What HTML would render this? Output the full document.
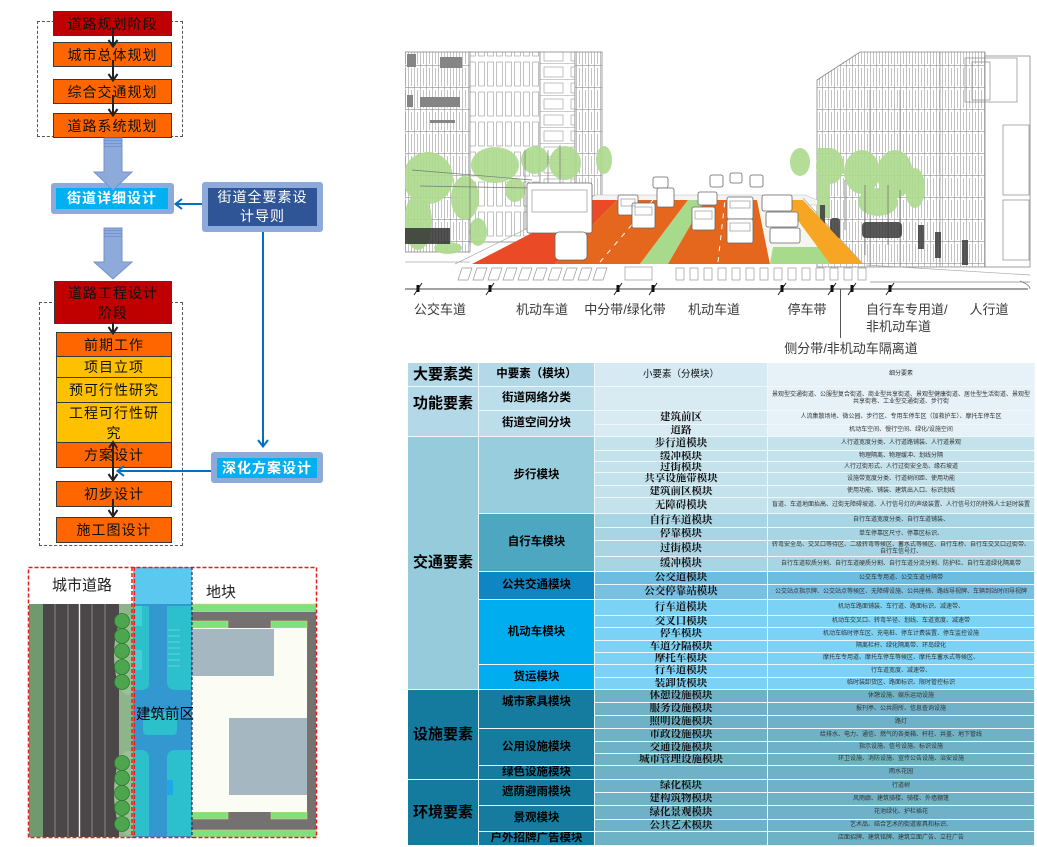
<!DOCTYPE html>
<html><head><meta charset="utf-8">
<style>
*{margin:0;padding:0;box-sizing:border-box}
html,body{width:1037px;height:847px;overflow:hidden;background:#fff}
body{position:relative;font-family:"Liberation Sans","Noto Sans CJK SC",sans-serif;color:#000}
.a{position:absolute}
.bx{position:absolute;display:flex;align-items:center;justify-content:center;text-align:center;font-size:14px;line-height:18px;letter-spacing:1px;border:1px solid #3a3a3a;color:#111}
.red{background:#c00000}
.org{background:#ff6600}
.yel{background:#ffc000}
.dash{position:absolute;border:1px dashed #555}
.ob{position:absolute;background:#8eaadb;border-radius:3px}
.ib{position:absolute;display:flex;align-items:center;justify-content:center;text-align:center;color:#fff;font-weight:bold;font-size:14px;letter-spacing:1px;line-height:19px}
.c{position:absolute;display:flex;align-items:center;justify-content:center;text-align:center;border-right:1px solid #eef7fb;border-bottom:1px solid #eef7fb;overflow:hidden;line-height:1.05}
.k1{left:408px;width:71px;font-size:15px;font-weight:bold}
.k2{left:479px;width:116px;font-size:11.5px;font-weight:bold}
.k3{left:595px;width:173px;font-size:10.5px;font-family:"Liberation Serif","Noto Serif CJK SC",serif;font-weight:bold;color:#111}
.k4{left:768px;width:267px;font-size:6px;line-height:7px;color:#333;padding:0 2px}
.f{background:#bcdeeb}
.f3{background:#d8ebf3}
.f4{background:#e6f2f8}
.p{background:#c4e2ec}
.b{background:#a8d5e3}
.t{background:#78bfe1}
.m{background:#7bd2f5}
.s{background:#6fb2c8}
</style></head><body>

<!-- ===== Flowchart ===== -->
<div class="dash" style="left:37px;top:21px;width:146px;height:116px"></div>
<div class="bx red" style="left:53px;top:11px;width:119px;height:25px">道路规划阶段</div>
<div class="bx org" style="left:53px;top:42px;width:119px;height:25px">城市总体规划</div>
<div class="bx org" style="left:53px;top:79px;width:119px;height:25px">综合交通规划</div>
<div class="bx org" style="left:53px;top:113px;width:119px;height:25px">道路系统规划</div>

<div class="ob" style="left:51px;top:183px;width:123px;height:31px"></div>
<div class="ib" style="left:56px;top:188px;width:112px;height:21px;background:#00b0f0">街道详细设计</div>

<div class="ob" style="left:202px;top:182px;width:121px;height:50px"></div>
<div class="ib" style="left:208px;top:188px;width:109px;height:38px;background:#2f5597;font-weight:normal">街道全要素设<br>计导则</div>

<div class="dash" style="left:39px;top:302px;width:144px;height:244px"></div>
<div class="bx red" style="left:54px;top:281px;width:118px;height:43px;line-height:20px">道路工程设计<br>阶段</div>
<div class="bx org" style="left:56px;top:332px;width:116px;height:25px">前期工作</div>
<div class="bx yel" style="left:56px;top:356px;width:116px;height:22px">项目立项</div>
<div class="bx yel" style="left:56px;top:377px;width:116px;height:26px">预可行性研究</div>
<div class="bx yel" style="left:56px;top:402px;width:116px;height:41px;line-height:20px">工程可行性研<br>究</div>
<div class="bx org" style="left:56px;top:442px;width:116px;height:26px">方案设计</div>
<div class="bx org" style="left:56px;top:481px;width:116px;height:26px">初步设计</div>
<div class="bx org" style="left:56px;top:517px;width:116px;height:26px">施工图设计</div>

<div class="ob" style="left:211px;top:452px;width:112px;height:31px"></div>
<div class="ib" style="left:217px;top:458px;width:100px;height:20px;background:#00b0f0">深化方案设计</div>

<svg class="a" style="left:0;top:0" width="340" height="560" viewBox="0 0 340 560">
  <g stroke="#222" stroke-width="2" fill="none">
    <path d="M113 27V46M108.5 40L113 46.5L117.5 40"/>
    <path d="M113 60V80M108.5 74L113 80.5L117.5 74"/>
    <path d="M113 95V115M108.5 109L113 115.5L117.5 109"/>
    <path d="M113 322V333M108.5 327L113 333.5L117.5 327"/>
    <path d="M109 448L113 442L117 448"/>
    <path d="M113 444V480M108.5 474L113 480.5L117.5 474"/>
    <path d="M113 499V516M108.5 510L113 516.5L117.5 510"/>
  </g>
  <path d="M104 138H122V172H132L113 190L94 172H104Z" fill="#8eaadb" stroke="#7393cf"/>
  <path d="M104 140.5H122M104 143.5H122M104 146.5H122" stroke="#6f8fcc" stroke-width="0.8"/>
  <path d="M104 228H122V262H132L113 279L94 262H104Z" fill="#8eaadb" stroke="#7393cf"/>
  <path d="M104 230.5H122M104 233.5H122M104 236.5H122" stroke="#6f8fcc" stroke-width="0.8"/>
  <g stroke="#0070c0" stroke-width="2" fill="none">
    <path d="M202 204H176M182 199L175.5 204L182 209"/>
    <path d="M263 232V446M258 440L263 446.5L268 440"/>
    <path d="M211 471H118M124 466L117.5 471L124 476"/>
  </g>
</svg>

<!-- ===== Bottom-left map ===== -->
<svg class="a" style="left:20px;top:560px" width="310" height="287" viewBox="20 560 310 287">
  <rect x="20" y="560" width="310" height="287" fill="#fff"/>
  <!-- road -->
  <rect x="29" y="604" width="14" height="233" fill="#6f9a6f"/>
  <rect x="43" y="604" width="77" height="233" fill="#4b4647"/>
  <g stroke="#8d8787" stroke-width="1"><path d="M55 604V837M68 604V837M92 604V837M105 604V837"/></g>
  <path d="M79.5 604V837" stroke="#f0f0f0" stroke-width="1.4"/>
  <rect x="119" y="604" width="14" height="233" fill="#8fb38b"/>
  <ellipse cx="128" cy="655" rx="14" ry="40" fill="#9dbf97"/>
  <ellipse cx="128" cy="793" rx="14" ry="42" fill="#9dbf97"/>
  <g fill="#4da64d" stroke="#2f7a2f" stroke-width="0.8">
    <circle cx="122" cy="621" r="7.5"/><circle cx="122" cy="636" r="7.5"/><circle cx="122" cy="651" r="7.5"/><circle cx="122" cy="667" r="7.5"/><circle cx="122" cy="682" r="7.5"/>
    <circle cx="122" cy="763" r="7.5"/><circle cx="122" cy="778" r="7.5"/><circle cx="122" cy="793" r="7.5"/><circle cx="122" cy="808" r="7.5"/><circle cx="122" cy="824" r="7.5"/>
  </g>
  <!-- middle 建筑前区 -->
  <rect x="133" y="567" width="59" height="37" fill="#5bc8f0"/>
  <rect x="133" y="604" width="59" height="233" fill="#3298cf"/>
  <g fill="#2cc0cc">
    <path d="M134 606H149V684Q149 690 140 690H134Z"/>
    <path d="M167 606H191V690H176Q167 690 167 682Z"/>
    <path d="M134 750H140Q149 750 149 758V836H134Z"/>
    <path d="M167 758Q167 750 176 750H191V836H167Z"/>
    <rect x="143" y="712" width="34" height="23" rx="4"/>
  </g>
  <rect x="134" y="606" width="8" height="20" fill="#40d0d8"/>
  <rect x="134" y="650" width="8" height="20" fill="#40d0d8"/>
  <rect x="167" y="780" width="6" height="15" fill="#1ea8e8"/>
  <g stroke="#74d8ec" stroke-width="0.8"><path d="M168 630H180M168 636H180M168 642H180M168 648H180M168 654H180M168 660H180M168 666H180"/></g>
  <!-- right plot -->
  <rect x="192" y="604" width="124" height="8" fill="#7ee07e" stroke="#e8cc70" stroke-width="0.6"/>
  <rect x="192" y="612" width="124" height="219" fill="#767171"/>
  <rect x="192" y="830" width="124" height="7" fill="#7ee07e" stroke="#e8cc70" stroke-width="0.6"/>
  <rect x="192" y="621" width="36" height="7" fill="#7ee07e" stroke="#e8cc70" stroke-width="0.6"/>
  <rect x="271" y="621" width="36" height="7" fill="#7ee07e" stroke="#e8cc70" stroke-width="0.6"/>
  <rect x="192" y="812" width="36" height="7" fill="#7ee07e" stroke="#e8cc70" stroke-width="0.6"/>
  <rect x="271" y="812" width="36" height="7" fill="#7ee07e" stroke="#e8cc70" stroke-width="0.6"/>
  <rect x="192" y="628" width="115" height="184" fill="#fbfcf4"/>
  <rect x="192" y="629" width="82" height="47" fill="#a5b8c2"/>
  <rect x="229" y="718" width="78" height="77" fill="#a5b8c2"/>
  <!-- dashed frames -->
  <rect x="28.5" y="567.5" width="288" height="270" fill="none" stroke="#e02020" stroke-width="1.5" stroke-dasharray="4 2"/>
  <path d="M132 567V838" stroke="#e02020" stroke-width="1.5" stroke-dasharray="4 2"/>
  <path d="M134.5 567V838" stroke="#e02020" stroke-width="1.2" stroke-dasharray="4 2"/>
  <path d="M192 567V838" stroke="#1a2f6e" stroke-width="1.2" stroke-dasharray="3 2"/>
  <g font-family="Liberation Sans, Noto Sans CJK SC, sans-serif" text-anchor="middle" fill="#222">
    <text x="82" y="590" font-size="15">城市道路</text>
    <text x="221" y="597" font-size="15">地块</text>
    <text x="165" y="719" font-size="14.5" fill="#000">建筑前区</text>
  </g>
</svg>

<!-- ===== Street illustration ===== -->
<svg class="a" style="left:405px;top:40px" width="630" height="320" viewBox="405 40 630 320">
  <defs>
    <pattern id="w1" width="6" height="22" patternUnits="userSpaceOnUse"><rect width="6" height="22" fill="#fff"/><path d="M0.5 0V22M3.5 2V20" stroke="#9c9c9c" stroke-width="0.6"/><path d="M0 21.5H6" stroke="#999" stroke-width="0.7"/></pattern>
    <pattern id="w2" width="27" height="16" patternUnits="userSpaceOnUse"><rect width="27" height="16" fill="#fff"/><rect x="4" y="3" width="19" height="10" fill="none" stroke="#999" stroke-width="0.6"/><path d="M0 15.5H27" stroke="#999" stroke-width="0.6"/></pattern>
    <pattern id="w3" width="9" height="30" patternUnits="userSpaceOnUse"><rect width="9" height="30" fill="#fff"/><rect x="1.5" y="2" width="6" height="24" fill="none" stroke="#9a9a9a" stroke-width="0.6"/></pattern>
  </defs>
  <!-- left buildings -->
  <rect x="405" y="52" width="65" height="200" fill="url(#w1)" stroke="#888" stroke-width="0.8"/>
  <rect x="470" y="52" width="70" height="190" fill="url(#w3)" stroke="#888" stroke-width="0.8"/>
  <rect x="540" y="52" width="35" height="150" fill="url(#w2)" stroke="#888" stroke-width="0.8"/>
  <rect x="575" y="52" width="27" height="160" fill="url(#w1)" stroke="#888" stroke-width="0.8"/>
  <g fill="#858585">
    <rect x="407" y="54" width="9" height="13"/><rect x="440" y="57" width="22" height="11"/>
    <rect x="407" y="95" width="6" height="12"/><rect x="420" y="97" width="40" height="10"/>
    <rect x="430" y="120" width="25" height="3"/>
  </g>
  <!-- right buildings -->
  <polygon points="817,80 860,52 985,52 985,267 817,267" fill="url(#w1)" stroke="#888" stroke-width="0.8"/>
  <rect x="985" y="56" width="45" height="211" fill="#fff" stroke="#888" stroke-width="0.8"/>
  <g fill="none" stroke="#8a8a8a" stroke-width="0.7">
    <rect x="965" y="58" width="52" height="44"/><rect x="972" y="62" width="18" height="38"/>
    <rect x="1003" y="125" width="26" height="70"/><rect x="1003" y="200" width="26" height="60"/>
    <path d="M940 52V267M900 90V267M870 90V267"/>
  </g>
  <!-- far road / sidewalks -->
  <polygon points="595,195 805,195 830,205 580,205" fill="#f4f4f4" stroke="#bbb" stroke-width="0.6"/>
  <path d="M455 264L595 195M863 264L803 198M866 265L1030 275M405 262L470 262" stroke="#aaa" stroke-width="0.7" fill="none"/>
  <path d="M870 282L1030 282" stroke="#888" stroke-width="0.8"/>
  <!-- trees left -->
  <g fill="#aedb8f" opacity="0.92">
    <ellipse cx="428" cy="178" rx="25" ry="26"/><ellipse cx="418" cy="222" rx="14" ry="28"/>
    <ellipse cx="495" cy="165" rx="24" ry="18"/><ellipse cx="535" cy="160" rx="14" ry="14"/>
    <ellipse cx="565" cy="163" rx="16" ry="17"/><ellipse cx="604" cy="160" rx="8" ry="14"/>
    <ellipse cx="465" cy="198" rx="14" ry="22"/><ellipse cx="478" cy="232" rx="9" ry="14"/>
    <ellipse cx="448" cy="248" rx="14" ry="6"/><ellipse cx="515" cy="190" rx="10" ry="12"/>
  </g>
  <g stroke="#777" stroke-width="0.7" fill="none">
    <path d="M412 170L532 180M420 186L530 188M470 170L470 245M525 150V230M548 150V240M560 145V210"/>
  </g>
  <rect x="405" y="228" width="45" height="16" fill="#333" opacity="0.85"/>
  <!-- trees right -->
  <g fill="#aedb8f" opacity="0.92">
    <ellipse cx="800" cy="162" rx="10" ry="14"/><ellipse cx="830" cy="166" rx="14" ry="18"/>
    <ellipse cx="862" cy="172" rx="18" ry="22"/><ellipse cx="895" cy="174" rx="18" ry="24"/>
    <ellipse cx="915" cy="188" rx="10" ry="20"/><ellipse cx="878" cy="202" rx="20" ry="14"/>
    <rect x="817" y="148" width="13" height="70"/>
  </g>
  <g stroke="#777" stroke-width="0.8"><path d="M865 185V255M888 185V245M900 190V235M845 180V230"/></g>
  <g fill="#3c3c3c" opacity="0.85">
    <rect x="862" y="222" width="40" height="16" rx="4"/><rect x="820" y="205" width="5" height="20"/><rect x="830" y="218" width="10" height="22" rx="3"/>
    <rect x="918" y="225" width="6" height="24"/><rect x="935" y="232" width="6" height="26"/><rect x="962" y="240" width="6" height="25"/>
  </g>
  <!-- road surfaces -->
  <polygon points="472,264 555,264 617,200 592,200 530,234" fill="#ea4b26"/>
  <polygon points="555,264 640,264 688,200 617,200" fill="#e5661d"/>
  <polygon points="640,264 668,264 705,200 688,200" fill="#a8da8b"/>
  <polygon points="668,264 770,264 757,200 705,200" fill="#e5661d"/>
  <polygon points="770,264 830,264 783,200 757,200" fill="#f5f5f0"/>
  <polygon points="773,247 820,247 830,264 770,264" fill="#a8da8b"/>
  <polygon points="830,264 863,264 803,200 783,200" fill="#f6a623"/>
  <g stroke="#fff" stroke-width="1" stroke-dasharray="5 6"><path d="M600 262L653 200M718 262L725 200"/></g>
  <!-- cars -->
  <g fill="#fff" stroke="#666" stroke-width="0.8">
    <rect x="527" y="183" width="65" height="50" rx="2"/>
    <rect x="555" y="232" width="32" height="28" rx="4"/>
    <rect x="618" y="195" width="20" height="20" rx="2"/>
    <rect x="632" y="203" width="23" height="25" rx="2"/>
    <rect x="653" y="177" width="15" height="11" rx="2"/>
    <rect x="657" y="188" width="17" height="19" rx="2"/>
    <rect x="692" y="207" width="23" height="23" rx="2"/>
    <rect x="698" y="192" width="19" height="13" rx="2"/>
    <rect x="710" y="175" width="13" height="12" rx="2"/>
    <rect x="727" y="197" width="26" height="22" rx="2"/>
    <rect x="727" y="219" width="26" height="24" rx="2"/>
    <rect x="730" y="173" width="12" height="10" rx="2"/>
    <rect x="750" y="175" width="13" height="12" rx="2"/>
    <rect x="762" y="195" width="30" height="16" rx="2"/>
    <rect x="766" y="212" width="32" height="15" rx="2"/>
    <rect x="770" y="228" width="30" height="15" rx="2"/>
  </g>
  <g fill="none" stroke="#888" stroke-width="0.6">
    <rect x="532" y="190" width="55" height="22"/><rect x="621" y="199" width="14" height="7"/><rect x="635" y="207" width="17" height="8"/>
    <rect x="695" y="211" width="17" height="8"/><rect x="730" y="201" width="20" height="7"/><rect x="730" y="223" width="20" height="8"/>
  </g>
  <!-- crosswalks -->
  <g fill="#fff" stroke="#999" stroke-width="0.7">
    <polygon points="458,280 468,280 472,268 462,268"/><polygon points="473,280 483,280 487,268 477,268"/>
    <polygon points="488,280 498,280 502,268 492,268"/><polygon points="503,280 513,280 517,268 507,268"/>
    <polygon points="518,280 528,280 532,268 522,268"/><polygon points="533,280 543,280 547,268 537,268"/>
    <polygon points="548,280 558,280 562,268 552,268"/><polygon points="563,280 573,280 577,268 567,268"/>
    <polygon points="578,280 588,280 592,268 582,268"/><polygon points="593,280 603,280 607,268 597,268"/>
    <rect x="625" y="267" width="27" height="13"/>
    <rect x="676" y="268" width="8" height="12"/><rect x="690" y="268" width="8" height="12"/><rect x="704" y="268" width="8" height="12"/>
    <rect x="718" y="268" width="8" height="12"/><rect x="732" y="268" width="8" height="12"/><rect x="746" y="268" width="8" height="12"/>
    <rect x="760" y="268" width="8" height="12"/><rect x="774" y="268" width="8" height="12"/><rect x="788" y="268" width="8" height="12"/>
    <rect x="802" y="268" width="8" height="12"/><rect x="816" y="268" width="8" height="12"/><rect x="830" y="268" width="8" height="12"/>
    <rect x="844" y="268" width="8" height="12"/><rect x="858" y="268" width="8" height="12"/>
  </g>
  <!-- baseline and ticks -->
  <path d="M405 289H1028" stroke="#444" stroke-width="1"/>
  <path d="M1020 281Q1030 285 1030 289" stroke="#777" fill="none" stroke-width="0.8"/>
  <g stroke="#222" stroke-width="1">
    <path d="M414 295L422 283M486 295L494 283M614 295L622 283M649 295L657 283M778 295L786 283M828 295L836 283M848 295L856 283M886 295L894 283"/>
  </g>
  <g fill="#111">
    <rect x="416.5" y="285" width="3" height="7"/><rect x="488.5" y="285" width="3" height="7"/><rect x="616.5" y="285" width="3" height="7"/><rect x="651.5" y="285" width="3" height="7"/>
    <rect x="780.5" y="285" width="3" height="7"/><rect x="830.5" y="285" width="3" height="7"/><rect x="850.5" y="285" width="3" height="7"/><rect x="888.5" y="285" width="3" height="7"/>
  </g>
  <path d="M840.5 289V338" stroke="#555" stroke-width="1"/>
  <g font-family="Liberation Sans, Noto Sans CJK SC, sans-serif" font-size="13" fill="#3a3a3a">
    <text x="440" y="314" text-anchor="middle">公交车道</text>
    <text x="542" y="314" text-anchor="middle">机动车道</text>
    <text x="625" y="314" text-anchor="middle">中分带/绿化带</text>
    <text x="714" y="314" text-anchor="middle">机动车道</text>
    <text x="807" y="314" text-anchor="middle">停车带</text>
    <text x="866" y="314">自行车专用道/</text>
    <text x="866" y="331">非机动车道</text>
    <text x="989" y="314" text-anchor="middle">人行道</text>
    <text x="851" y="353" text-anchor="middle">侧分带/非机动车隔离道</text>
  </g>
</svg>

<!-- ===== Table ===== -->
<!-- col1 -->
<div class="c k1" style="top:363px;height:24px;background:#b3d8e7">大要素类</div>
<div class="c k1" style="top:387px;height:50px;background:#b3d8e7;align-items:flex-start;padding-top:9px">功能要素</div>
<div class="c k1" style="top:437px;height:253px;background:#96cbdc">交通要素</div>
<div class="c k1" style="top:690px;height:90px;background:#147b9f">设施要素</div>
<div class="c k1" style="top:780px;height:66px;background:#147b9f">环境要素</div>
<!-- col2 -->
<div class="c k2" style="top:363px;height:24px;background:#b3d8e7">中要素（模块）</div>
<div class="c k2 f" style="top:387px;height:24px">街道网络分类</div>
<div class="c k2 f" style="top:411px;height:26px">街道空间分块</div>
<div class="c k2" style="top:437px;height:77px;background:#98cddd">步行模块</div>
<div class="c k2" style="top:514px;height:58px;background:#4da7c1">自行车模块</div>
<div class="c k2" style="top:572px;height:28px;background:#0d86c3">公共交通模块</div>
<div class="c k2" style="top:600px;height:65px;background:#00adef">机动车模块</div>
<div class="c k2" style="top:665px;height:25px;background:#00adef">货运模块</div>
<div class="c k2" style="top:690px;height:39px;background:#157c9f;align-items:flex-start;padding-top:6px">城市家具模块</div>
<div class="c k2" style="top:729px;height:37px;background:#157c9f">公用设施模块</div>
<div class="c k2" style="top:766px;height:14px;background:#157c9f">绿色设施模块</div>
<div class="c k2" style="top:780px;height:26px;background:#157c9f">遮荫避雨模块</div>
<div class="c k2" style="top:806px;height:26px;background:#157c9f">景观模块</div>
<div class="c k2" style="top:832px;height:14px;background:#157c9f">户外招牌广告模块</div>
<!-- col3 -->
<div class="c k3" style="top:363px;height:24px;background:#d6eaf3;font-family:'Liberation Sans','Noto Sans CJK SC',sans-serif;font-weight:normal;font-size:9.5px">小要素（分模块）</div>
<div class="c k3 f3" style="top:387px;height:24px"></div>
<div class="c k3 f3" style="top:411px;height:14px">建筑前区</div>
<div class="c k3 f3" style="top:425px;height:12px">道路</div>
<div class="c k3 p" style="top:437px;height:14px">步行道模块</div>
<div class="c k3 p" style="top:451px;height:11px">缓冲模块</div>
<div class="c k3 p" style="top:462px;height:11px">过街模块</div>
<div class="c k3 p" style="top:473px;height:13px">共享设施带模块</div>
<div class="c k3 p" style="top:486px;height:12px">建筑前区模块</div>
<div class="c k3 p" style="top:498px;height:16px">无障碍模块</div>
<div class="c k3 b" style="top:514px;height:14px">自行车道模块</div>
<div class="c k3 b" style="top:528px;height:13px">停靠模块</div>
<div class="c k3 b" style="top:541px;height:16px">过街模块</div>
<div class="c k3 b" style="top:557px;height:15px">缓冲模块</div>
<div class="c k3 t" style="top:572px;height:13px;background:#6dbde0">公交道模块</div>
<div class="c k3 t" style="top:585px;height:15px">公交停靠站模块</div>
<div class="c k3 m" style="top:600px;height:16px">行车道模块</div>
<div class="c k3 m" style="top:616px;height:12px">交叉口模块</div>
<div class="c k3 m" style="top:628px;height:13px">停车模块</div>
<div class="c k3 m" style="top:641px;height:12px">车道分隔模块</div>
<div class="c k3 m" style="top:653px;height:12px">摩托车模块</div>
<div class="c k3 m" style="top:665px;height:13px">行车道模块</div>
<div class="c k3 m" style="top:678px;height:12px">装卸货模块</div>
<div class="c k3 s" style="top:690px;height:13px">休憩设施模块</div>
<div class="c k3 s" style="top:703px;height:13px">服务设施模块</div>
<div class="c k3 s" style="top:716px;height:13px">照明设施模块</div>
<div class="c k3 s" style="top:729px;height:13px">市政设施模块</div>
<div class="c k3 s" style="top:742px;height:12px">交通设施模块</div>
<div class="c k3 s" style="top:754px;height:12px">城市管理设施模块</div>
<div class="c k3 s" style="top:766px;height:14px"></div>
<div class="c k3 s" style="top:780px;height:13px">绿化模块</div>
<div class="c k3 s" style="top:793px;height:13px">建构筑物模块</div>
<div class="c k3 s" style="top:806px;height:14px">绿化景观模块</div>
<div class="c k3 s" style="top:820px;height:12px">公共艺术模块</div>
<div class="c k3 s" style="top:832px;height:14px"></div>
<!-- col4 -->
<div class="c k4 f4" style="top:363px;height:24px">细分要素</div>
<div class="c k4 f4" style="top:387px;height:24px">景观型交通街道、公服型复合街道、商业型共享街道、景观型健康街道、居住型生活街道、景观型共享街巷、工业型交通街道、步行街</div>
<div class="c k4 f4" style="top:411px;height:14px">人流集散场地、微公园、步行区、专用车停车区（加救护车）、摩托车停车区</div>
<div class="c k4 f4" style="top:425px;height:12px">机动车空间、慢行空间、绿化/设施空间</div>
<div class="c k4 p" style="top:437px;height:14px">人行道宽度分类、人行道路铺装、人行道景观</div>
<div class="c k4 p" style="top:451px;height:11px">物理隔离、物理缓冲、划线分隔</div>
<div class="c k4 p" style="top:462px;height:11px">人行过街形式、人行过街安全岛、缘石坡道</div>
<div class="c k4 p" style="top:473px;height:13px">设施带宽度分类、行道树间距、使用功能</div>
<div class="c k4 p" style="top:486px;height:12px">使用功能、铺装、建筑出入口、标识划线</div>
<div class="c k4 p" style="top:498px;height:16px">盲道、车道地面抬高、过街无障碍坡道、人行信号灯的声级装置、人行信号灯的特殊人士延时装置</div>
<div class="c k4 b" style="top:514px;height:14px">自行车道宽度分类、自行车道铺装、</div>
<div class="c k4 b" style="top:528px;height:13px">单车停靠区尺寸、停靠区标识、</div>
<div class="c k4 b" style="top:541px;height:16px">转弯安全岛、交叉口等待区、二级转弯等候区、蓄水式等候区、自行车桥、自行车交叉口过街带、自行车信号灯、</div>
<div class="c k4 b" style="top:557px;height:15px">自行车道软质分割、自行车道硬质分割、自行车道分流分割、防护栏、自行车道绿化隔离带</div>
<div class="c k4 t" style="top:572px;height:13px;background:#6dbde0">公交车专用道、公交车道分隔带</div>
<div class="c k4 t" style="top:585px;height:15px">公交站点指示牌、公交站点等候区、无障碍设施、公共座椅、路线导视牌、车辆到站时间导视牌</div>
<div class="c k4 m" style="top:600px;height:16px">机动车路面铺装、车行道、路面标识、减速带、</div>
<div class="c k4 m" style="top:616px;height:12px">机动车交叉口、转弯半径、划线、车道宽度、减速带</div>
<div class="c k4 m" style="top:628px;height:13px">机动车临时停车区、充电桩、停车计费装置、停车监控设施</div>
<div class="c k4 m" style="top:641px;height:12px">隔离栏杆、绿化隔离带、环岛绿化</div>
<div class="c k4 m" style="top:653px;height:12px">摩托车专用道、摩托车停车等候区、摩托车蓄水式等候区、</div>
<div class="c k4 m" style="top:665px;height:13px">行车道宽度、减速带、</div>
<div class="c k4 m" style="top:678px;height:12px">临时装卸货区、路面标识、限时管控标识</div>
<div class="c k4 s" style="top:690px;height:13px">休憩设施、娱乐运动设施</div>
<div class="c k4 s" style="top:703px;height:13px">报刊亭、公共厕所、信息查询设施</div>
<div class="c k4 s" style="top:716px;height:13px">路灯</div>
<div class="c k4 s" style="top:729px;height:13px">给排水、电力、通信、燃气的各类箱、杆柱、井盖、地下管线</div>
<div class="c k4 s" style="top:742px;height:12px">指示设施、信号设施、标识设施</div>
<div class="c k4 s" style="top:754px;height:12px">环卫设施、消防设施、宣传公告设施、治安设施</div>
<div class="c k4 s" style="top:766px;height:14px">雨水花园</div>
<div class="c k4 s" style="top:780px;height:13px">行道树</div>
<div class="c k4 s" style="top:793px;height:13px">风雨廊、建筑骑楼、骑楼、外墙棚篷</div>
<div class="c k4 s" style="top:806px;height:14px">花池绿化、护栏插花</div>
<div class="c k4 s" style="top:820px;height:12px">艺术品、结合艺术的街道家具和标识、</div>
<div class="c k4 s" style="top:832px;height:14px">店面招牌、建筑铭牌、建筑立面广告、立柱广告</div>

</body></html>
